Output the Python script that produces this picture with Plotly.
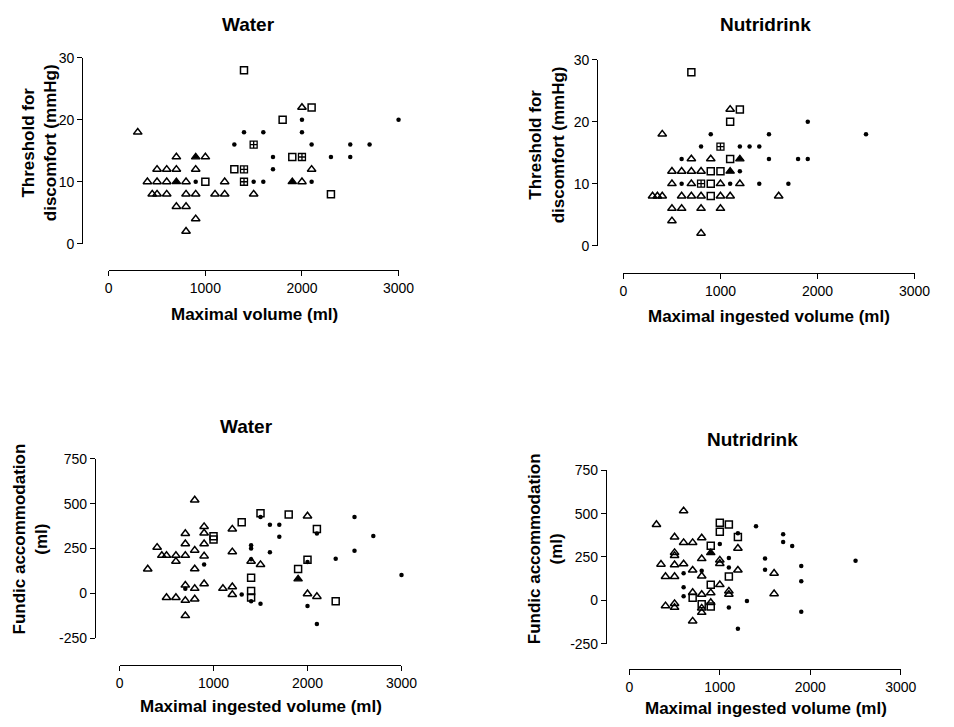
import plotly.graph_objects as go

# ---------------- DATA ----------------
X_TICKS = [0, 1000, 2000, 3000]
Y_TICKS_TOP = [0, 10, 20, 30]
Y_TICKS_BOT = [-250, 0, 250, 500, 750]

# Top-left: Water, threshold vs maximal volume
TL_TRI_X = [300, 2000, 700, 1000, 500, 600, 700, 900, 2100, 400, 500, 600, 800, 1200, 2000,
            450, 500, 600, 800, 900, 1100, 1200, 1500, 700, 800, 900, 800]
TL_TRI_Y = [18, 22, 14, 14, 12, 12, 12, 12, 12, 10, 10, 10, 10, 10, 10,
            8, 8, 8, 8, 8, 8, 8, 8, 6, 6, 4, 2]
TL_TRIF_X = [900, 700, 1900]
TL_TRIF_Y = [14, 10, 10]
TL_SQ_X = [1400, 2100, 1800, 1900, 1300, 1000, 2300]
TL_SQ_Y = [28, 22, 20, 14, 12, 10, 8]
TL_SQX_X = [1500, 2000, 1400, 1400]
TL_SQX_Y = [16, 14, 12, 10]
TL_DOT_X = [2000, 3000, 1400, 1600, 2000, 1300, 2100, 2500, 2700, 1700, 2300, 2500, 1700,
            900, 1500, 1600, 2100]
TL_DOT_Y = [20, 20, 18, 18, 18, 16, 16, 16, 16, 14, 14, 14, 12, 10, 10, 10, 10]

# Top-right: Nutridrink, threshold vs maximal ingested volume
TR_TRI_X = [1100, 400, 700, 900, 500, 600, 700, 800, 500, 700, 1000, 1200, 300, 350, 400,
            600, 700, 800, 1000, 1100, 1600, 500, 600, 800, 1000, 500, 800]
TR_TRI_Y = [22, 18, 14, 14, 12, 12, 12, 12, 10, 10, 10, 10, 8, 8, 8,
            8, 8, 8, 8, 8, 8, 6, 6, 6, 6, 4, 2]
TR_TRIF_X = [1200, 1100]
TR_TRIF_Y = [14, 12]
TR_SQ_X = [700, 1200, 1100, 1100, 900, 1000, 900, 900]
TR_SQ_Y = [28, 22, 20, 14, 12, 12, 10, 8]
TR_SQX_X = [1000, 800]
TR_SQX_Y = [16, 10]
TR_DOT_X = [1900, 900, 1500, 2500, 800, 1200, 1300, 1400, 600, 1500, 1800, 1900, 1200,
            600, 1100, 1400, 1700]
TR_DOT_Y = [20, 18, 18, 18, 16, 16, 16, 16, 14, 14, 14, 14, 12, 10, 10, 10, 10]

# Bottom-left: Water, fundic accommodation vs maximal ingested volume
BL_TRI_X = [300, 400, 450, 500, 600, 600, 700, 700, 700, 700, 700, 700, 500, 600,
            800, 800, 800, 800, 800, 900, 900, 900, 900, 900, 1100, 1200, 1200, 1200, 1200,
            1400, 1500, 2000, 2000, 2100]
BL_TRI_Y = [135, 256, 211, 211, 211, 178, 333, 276, 211, 45, -40, -125, -24, -24,
            520, 240, 136, 27, -32, 372, 336, 276, 208, 53, 27, 358, 231, 36, -7,
            178, 160, 431, -3, -18]
BL_TRIF_X = [1900]
BL_TRIF_Y = [80]
BL_SQ_X = [1000, 1000, 1300, 1400, 1400, 1400, 1500, 1800, 1900, 2000, 2100, 2300]
BL_SQ_Y = [318, 300, 397, 87, 13, -24, 447, 440, 135, 187, 358, -44]
BL_DOT_X = [700, 900, 1300, 1400, 1400, 1400, 1400, 1500, 1500, 1600, 1600, 1700, 1700,
            2000, 2000, 2100, 2100, 2300, 2500, 2500, 2700, 3000]
BL_DOT_Y = [25, 160, -7, 268, 250, 190, -44, 425, -58, 382, 229, 382, 316,
            175, -71, 333, -171, 193, 425, 238, 320, 102]

# Bottom-right: Nutridrink, fundic accommodation vs maximal ingested volume
BR_TRI_X = [300, 350, 400, 400, 500, 500, 500, 500, 500, 500, 500, 600, 600, 600,
            700, 700, 700, 700, 800, 800, 800, 800, 800, 800, 900, 900,
            1000, 1000, 1000, 1100, 1100, 1200, 1200, 1600, 1600]
BR_TRI_Y = [437, 208, 137, -32, 365, 275, 258, 205, 137, -19, -41, 516, 333, 210,
            333, 174, 45, -120, 360, 240, 140, 34, -45, -70, 43, -13,
            232, 212, 90, 53, 34, 300, 174, 156, 38]
BR_TRIF_X = [900]
BR_TRIF_Y = [274]
BR_SQ_X = [700, 800, 900, 900, 900, 1000, 1000, 1100, 1100, 1200]
BR_SQ_Y = [15, -22, 315, 90, -36, 447, 395, 437, 137, 365]
BR_DOT_X = [600, 600, 600, 800, 1000, 1100, 1100, 1100, 1200, 1200, 1300, 1400, 1500, 1500,
            1700, 1700, 1800, 1900, 1900, 1900, 2500]
BR_DOT_Y = [156, 75, 24, 170, 325, 244, 190, -41, 387, -164, -4, 428, 242, 177,
            381, 336, 314, 198, 110, -66, 229]

# ---------------- FIGURE ----------------
W, H = 954, 727
FONT = "Liberation Sans, Arial, Helvetica, sans-serif"


def fx(px):
    return px / W


def fy(py):
    return 1 - py / H


fig = go.Figure()

marker_styles = {
    "tri": dict(symbol="triangle-up-open", size=7.5, color="black", line=dict(width=1.5, color="black")),
    "trif": dict(symbol="triangle-up", size=7.5, color="black", line=dict(width=1.2, color="black")),
    "sq": dict(symbol="square-open", size=7, color="black", line=dict(width=1.5, color="black")),
    "sqx": dict(symbol="square-cross-open", size=7, color="black", line=dict(width=1.3, color="black")),
    "dot": dict(symbol="circle", size=4.5, color="black", line=dict(width=0)),
}

panels = [
    ("x", "y", [("tri", TL_TRI_X, TL_TRI_Y), ("trif", TL_TRIF_X, TL_TRIF_Y), ("sq", TL_SQ_X, TL_SQ_Y),
                ("sqx", TL_SQX_X, TL_SQX_Y), ("dot", TL_DOT_X, TL_DOT_Y)]),
    ("x2", "y2", [("tri", TR_TRI_X, TR_TRI_Y), ("trif", TR_TRIF_X, TR_TRIF_Y), ("sq", TR_SQ_X, TR_SQ_Y),
                  ("sqx", TR_SQX_X, TR_SQX_Y), ("dot", TR_DOT_X, TR_DOT_Y)]),
    ("x3", "y3", [("tri", BL_TRI_X, BL_TRI_Y), ("trif", BL_TRIF_X, BL_TRIF_Y), ("sq", BL_SQ_X, BL_SQ_Y),
                  ("dot", BL_DOT_X, BL_DOT_Y)]),
    ("x4", "y4", [("tri", BR_TRI_X, BR_TRI_Y), ("trif", BR_TRIF_X, BR_TRIF_Y), ("sq", BR_SQ_X, BR_SQ_Y),
                  ("dot", BR_DOT_X, BR_DOT_Y)]),
]

for xa, ya, series in panels:
    for kind, xs, ys in series:
        fig.add_trace(go.Scatter(x=xs, y=ys, mode="markers", xaxis=xa, yaxis=ya,
                                 marker=marker_styles[kind], cliponaxis=False,
                                 showlegend=False, hoverinfo="x+y"))

axis_common = dict(showgrid=False, zeroline=False, showline=True, linecolor="black", linewidth=1.3,
                   ticks="outside", ticklen=5, tickwidth=1.3, tickcolor="black",
                   tickfont=dict(family=FONT, size=14, color="black"), anchor="free",
                   fixedrange=True)

# (x domain px, y domain px (top, bottom), y-axis line x px, x-axis line y px, yrange, yticks)
geo = [
    ((107, 403), (51, 241), 80, 268, [0, 30], Y_TICKS_TOP),
    ((632.7, 930), (53, 243), 606, 270.7, [0, 30], Y_TICKS_TOP),
    ((118, 406), (461, 644.3), 93, 671.7, [-250, 750], Y_TICKS_BOT),
    ((638.7, 916), (472.7, 650), 615, 676, [-250, 750], Y_TICKS_BOT),
]

layout_axes = {}
for i, (xd, yd, yline, xline, yr, yt) in enumerate(geo):
    sfx = "" if i == 0 else str(i + 1)
    layout_axes["xaxis" + sfx] = dict(axis_common, domain=[fx(xd[0]), fx(xd[1])], range=[0, 3000],
                                      tickvals=X_TICKS, ticktext=[str(v) for v in X_TICKS],
                                      position=fy(xline))
    layout_axes["yaxis" + sfx] = dict(axis_common, domain=[fy(yd[1]), fy(yd[0])], range=yr,
                                      tickvals=yt, ticktext=[str(v) for v in yt],
                                      position=fx(yline))

fig.update_layout(width=W, height=H, margin=dict(l=0, r=0, t=0, b=0),
                  paper_bgcolor="white", plot_bgcolor="white", **layout_axes)


def ann(text, x, y, size, angle=0):
    fig.add_annotation(text=text, x=fx(x), y=fy(y), xref="paper", yref="paper",
                       xanchor="center", yanchor="middle", showarrow=False, textangle=angle,
                       font=dict(family=FONT, size=size, color="black"))


TITLE_SIZE = 19
AX_SIZE = 17

ann("<b>Water</b>", 249.5, 17, TITLE_SIZE)
ann("<b>Nutridrink</b>", 778, 17, TITLE_SIZE)
ann("<b>Water</b>", 248, 428, TITLE_SIZE)
ann("<b>Nutridrink</b>", 765, 441.7, TITLE_SIZE)

ann("<b>Maximal volume (ml)</b>", 255.7, 313, AX_SIZE)
ann("<b>Maximal ingested volume (ml)</b>", 781.8, 315, AX_SIZE)
ann("<b>Maximal ingested volume (ml)</b>", 262, 714, AX_SIZE)
ann("<b>Maximal ingested volume (ml)</b>", 778.3, 716.7, AX_SIZE)

ann("<b>Threshold for<br>discomfort (mmHg)</b>", 37, 138, AX_SIZE, -90)
ann("<b>Threshold for<br>discomfort (mmHg)</b>", 555, 140, AX_SIZE, -90)
ann("<b>Fundic accommodation<br>(ml)</b>", 27, 543, AX_SIZE, -90)
ann("<b>Fundic accommodation<br>(ml)</b>", 553, 553, AX_SIZE, -90)

fig.write_html("out.html", config={"displayModeBar": False},
               post_script="document.body.style.margin='0px';document.body.style.overflow='hidden';")
